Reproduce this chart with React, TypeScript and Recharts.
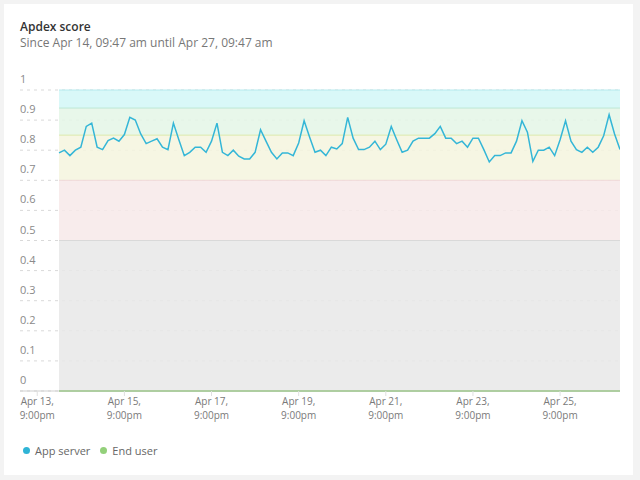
import {
  LineChart,
  Line,
  XAxis,
  YAxis,
  CartesianGrid,
  ReferenceArea,
  ReferenceLine,
  Legend,
} from "recharts";

// hours since Apr 13, 00:00; one sample every 3 hours
const START_HOUR = 33;
const STEP_HOURS = 3;
const END_HOUR = 342;

const appServer = [
  0.791, 0.8, 0.782, 0.8, 0.81, 0.879, 0.89, 0.81, 0.802, 0.832, 0.84, 0.83, 0.852, 0.909, 0.9, 0.854, 0.822, 0.83,
  0.838, 0.81, 0.802, 0.89, 0.835, 0.782, 0.793, 0.81, 0.81, 0.793, 0.83, 0.89, 0.793, 0.782, 0.8, 0.78, 0.771,
  0.771, 0.793, 0.868, 0.83, 0.793, 0.771, 0.791, 0.791, 0.782, 0.824, 0.898, 0.844, 0.793, 0.8, 0.782, 0.81, 0.804,
  0.822, 0.909, 0.84, 0.802, 0.802, 0.81, 0.83, 0.802, 0.82, 0.879, 0.835, 0.793, 0.8, 0.83, 0.84, 0.84, 0.84, 0.855,
  0.879, 0.84, 0.84, 0.822, 0.83, 0.81, 0.84, 0.84, 0.802, 0.761, 0.782, 0.782, 0.791, 0.791, 0.83, 0.898, 0.86,
  0.763, 0.8, 0.8, 0.81, 0.782, 0.835, 0.898, 0.83, 0.802, 0.793, 0.81, 0.793, 0.81, 0.848, 0.918, 0.854, 0.802,
];

const endUser = [
  0, 0, 0, 0, 0, 0, 0, 0, 0, 0, 0, 0, 0, 0, 0, 0, 0, 0, 0, 0, 0, 0, 0, 0, 0, 0,
  0, 0, 0, 0, 0, 0, 0, 0, 0, 0, 0, 0, 0, 0, 0, 0, 0, 0, 0, 0, 0, 0, 0, 0, 0, 0,
  0, 0, 0, 0, 0, 0, 0, 0, 0, 0, 0, 0, 0, 0, 0, 0, 0, 0, 0, 0, 0, 0, 0, 0, 0, 0,
  0, 0, 0, 0, 0, 0, 0, 0, 0, 0, 0, 0, 0, 0, 0, 0, 0, 0, 0, 0, 0, 0, 0, 0, 0, 0,
];

const tickHours = [21, 69, 117, 165, 213, 261, 309];
const tickLabels = [
  ["Apr 13,", "9:00pm"],
  ["Apr 15,", "9:00pm"],
  ["Apr 17,", "9:00pm"],
  ["Apr 19,", "9:00pm"],
  ["Apr 21,", "9:00pm"],
  ["Apr 23,", "9:00pm"],
  ["Apr 25,", "9:00pm"],
];

const yTicks = [0, 0.1, 0.2, 0.3, 0.4, 0.5, 0.6, 0.7, 0.8, 0.9, 1];

// apdex zones: [from, to, fill (drawn at 0.85 opacity), top edge]
const zones: [number, number, string, string][] = [
  [0, 0.5, "#e7e7e7", "#d9d9d9"],
  [0.5, 0.7, "#f7e9e9", "#f0d9d9"],
  [0.7, 0.85, "#f5f5de", "#dde8ab"],
  [0.85, 0.94, "#e4f6e6", "#bde8d6"],
  [0.94, 1, "#d2f7f7", "#b6eaee"],
];

const data = appServer.map((v, i) => ({
  t: START_HOUR + i * STEP_HOURS,
  app: v,
  end: endUser[i],
}));

const FONT = "'Open Sans', sans-serif";
const PLOT_LEFT = 20;

const renderYTick = (props: any) => (
  <text
    key={`y-${props.payload.value}`}
    x={PLOT_LEFT}
    y={props.y - 7}
    fill="#8a8a8a"
    fontSize={11}
    fontFamily={FONT}
    textAnchor="start"
  >
    {String(props.payload.value)}
  </text>
);

const renderXTick = (props: any) => {
  const idx = tickHours.indexOf(props.payload.value);
  const lines = tickLabels[idx] || ["", ""];
  return (
    <g key={`x-${props.payload.value}`}>
      <text x={props.x} y={props.y + 7} textAnchor="middle" fill="#7a7a7a" fontSize={10} fontFamily={FONT}>
        {lines[0]}
      </text>
      <text x={props.x} y={props.y + 20.5} textAnchor="middle" fill="#7a7a7a" fontSize={10} fontFamily={FONT}>
        {lines[1]}
      </text>
    </g>
  );
};

const LegendContent = () => (
  <div style={{ display: "flex", alignItems: "center", fontFamily: FONT, fontSize: 11, color: "#666" }}>
    <span style={{ width: 7, height: 7, borderRadius: "50%", background: "#2fb4d6", marginRight: 5 }} />
    <span style={{ marginRight: 10 }}>App server</span>
    <span style={{ width: 7, height: 7, borderRadius: "50%", background: "#93d07a", marginRight: 5 }} />
    <span>End user</span>
  </div>
);

export default function App() {
  return (
    <div style={{ position: "absolute", left: 0, top: 0, width: 640, height: 480, background: "#f3f3f3" }}>
      <div
        style={{
          position: "absolute",
          left: 4,
          top: 4,
          width: 629,
          height: 471,
          background: "#fff",
        }}
      >
        <div
          style={{
            position: "absolute",
            left: 16,
            top: 15,
            fontFamily: FONT,
            fontSize: 12,
            lineHeight: "16px",
            fontWeight: 600,
            color: "#333",
          }}
        >
          Apdex score
        </div>
        <div
          style={{
            position: "absolute",
            left: 16,
            top: 31,
            fontFamily: FONT,
            fontSize: 12,
            lineHeight: "16px",
            color: "#777",
          }}
        >
          Since Apr 14, 09:47 am until Apr 27, 09:47 am
        </div>
      </div>
      <div style={{ position: "absolute", left: 0, top: 60 }}>
        <LineChart width={640} height={420} data={data} margin={{ top: 30, right: 20, left: PLOT_LEFT - 1, bottom: 59 }}>
          <CartesianGrid vertical={false} stroke="#d9d9d9" strokeDasharray="3 4" />
          {zones.map(([from, to, fill]) => (
            <ReferenceArea
              key={`zone-${from}`}
              x1={START_HOUR}
              x2={END_HOUR}
              y1={from}
              y2={to}
              fill={fill}
              fillOpacity={0.85}
              stroke="none"
            />
          ))}
          {zones.map(([, to, , edge]) => (
            <ReferenceLine
              key={`edge-${to}`}
              segment={[
                { x: START_HOUR, y: to },
                { x: END_HOUR, y: to },
              ]}
              stroke={edge}
              strokeWidth={1}
            />
          ))}
          <XAxis
            dataKey="t"
            type="number"
            domain={[11.5, END_HOUR]}
            ticks={tickHours}
            tick={renderXTick}
            height={30}
            stroke="#cfcfcf"
            tickLine={{ stroke: "#e0e0e0" }}
            tickSize={5}
            allowDataOverflow
          />
          <YAxis
            type="number"
            domain={[0, 1]}
            ticks={yTicks}
            width={1}
            axisLine={false}
            tickLine={false}
            tick={renderYTick}
            interval={0}
          />
          <Line
            dataKey="end"
            stroke="#8dcc72"
            strokeWidth={2}
            dot={false}
            isAnimationActive={false}
            name="End user"
          />
          <Line
            dataKey="app"
            stroke="#34b6d7"
            strokeWidth={1.5}
            dot={false}
            isAnimationActive={false}
            name="App server"
          />
          <Legend
            layout="horizontal"
            verticalAlign="middle"
            content={<LegendContent />}
            wrapperStyle={{ top: 383, left: 23, width: 200 }}
          />
        </LineChart>
      </div>
    </div>
  );
}
